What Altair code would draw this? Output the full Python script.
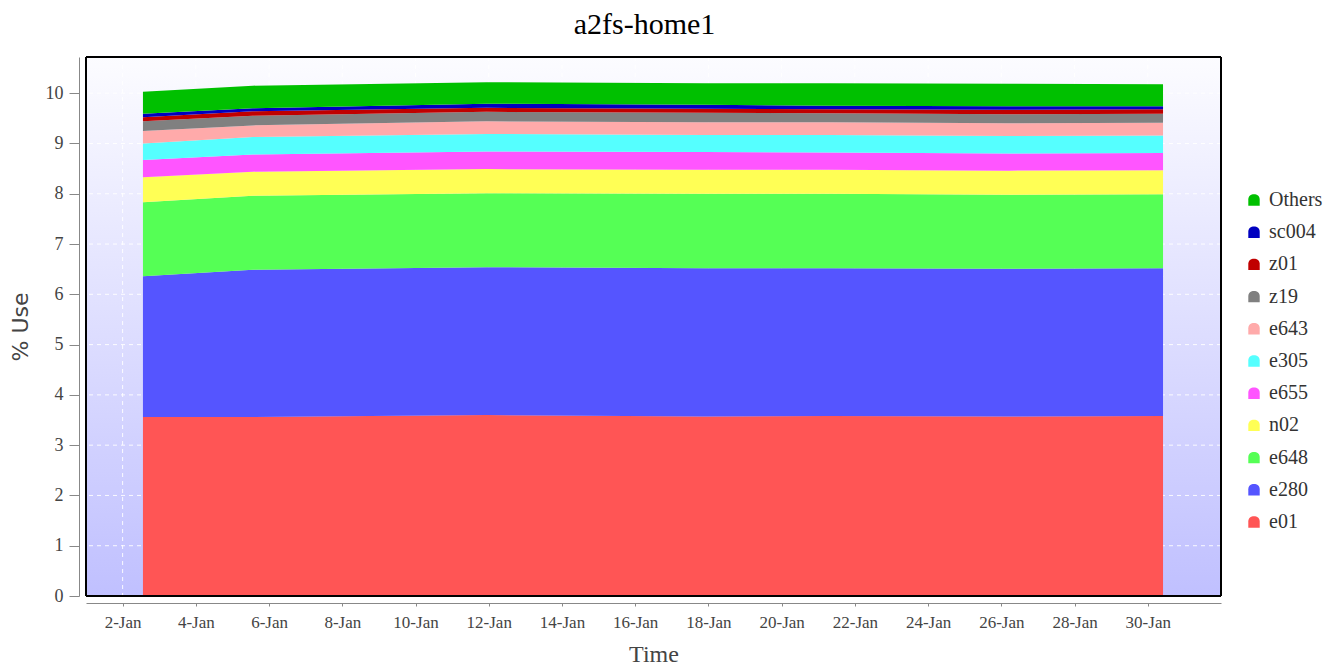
import altair as alt
import pandas as pd

dates = [
    "2013-01-02T13:20:00",
    "2013-01-05T13:20:00",
    "2013-01-11T22:30:00",
    "2013-01-17T21:20:00",
    "2013-01-21T07:10:00",
    "2013-01-26T05:00:00",
    "2013-01-30T10:00:00",
]

series_names = ["e01", "e280", "e648", "n02", "e655", "e305", "e643", "z19", "z01", "sc004", "Others"]
series_colors = ["#ff5555", "#5555ff", "#55ff55", "#ffff55", "#ff55ff", "#55ffff",
                 "#ffaaaa", "#808080", "#c00000", "#0000c0", "#00c000"]

e01 = [3.56, 3.56, 3.60, 3.57, 3.58, 3.57, 3.58]
e280 = [2.80, 2.93, 2.94, 2.95, 2.94, 2.94, 2.94]
e648 = [1.47, 1.47, 1.47, 1.48, 1.48, 1.47, 1.47]
n02 = [0.50, 0.48, 0.48, 0.48, 0.48, 0.48, 0.48]
e655 = [0.34, 0.34, 0.35, 0.35, 0.34, 0.34, 0.34]
e305 = [0.33, 0.35, 0.35, 0.34, 0.35, 0.35, 0.35]
e643 = [0.25, 0.23, 0.25, 0.25, 0.25, 0.25, 0.25]
z19 = [0.19, 0.19, 0.19, 0.19, 0.18, 0.18, 0.18]
z01 = [0.08, 0.09, 0.08, 0.08, 0.08, 0.09, 0.09]
sc004 = [0.07, 0.06, 0.08, 0.08, 0.07, 0.07, 0.06]
others = [0.44, 0.45, 0.43, 0.43, 0.45, 0.45, 0.44]

series_values = [e01, e280, e648, n02, e655, e305, e643, z19, z01, sc004, others]

tick_days = list(range(2, 31, 2))
x_tick_dates = ["2013-01-%02dT00:00:00" % d for d in tick_days]
y_ticks = list(range(0, 11))

rows = []
for order, (name, vals) in enumerate(zip(series_names, series_values)):
    for d, v in zip(dates, vals):
        rows.append({"Time": d, "series": name, "value": v, "order": order})
df = pd.DataFrame(rows)

hgrid_df = pd.DataFrame({"value": y_ticks})
vgrid_df = pd.DataFrame({"Time": x_tick_dates})

SERIF = "Liberation Serif"
SANS = "DejaVu Sans"
W, H = 1135, 539

legend_domain = list(reversed(series_names))
legend_range = list(reversed(series_colors))

symbol_path = "M-1,1L-1,-0.1C-1,-0.7,-0.55,-1,0,-1C0.55,-1,1,-0.7,1,-0.1L1,1Z"

x_scale = alt.Scale(domain=[alt.DateTime(year=2013, month=1, date=1),
                            alt.DateTime(year=2013, month=2, date=1)], nice=False)
y_scale = alt.Scale(domain=[0, 10.72], nice=False, zero=True)

x_axis = alt.Axis(
    values=[alt.DateTime(year=2013, month=1, date=d) for d in tick_days],
    format="%-d-%b",
    offset=7,
    grid=False,
    title="Time",
    labelFontSize=17,
    tickSize=3,
    labelPadding=8,
    titlePadding=12,
    titleFont=SERIF,
    titleFontSize=24,
)
y_axis = alt.Axis(
    values=y_ticks,
    offset=7,
    grid=False,
    title="% Use",
    labelFontSize=18,
    tickSize=10,
    labelPadding=6,
    titleFont=SANS,
    titleFontSize=22,
    titlePadding=13,
)

bg = alt.Chart(hgrid_df).mark_rect(
    color=alt.LinearGradient(
        gradient="linear", x1=0, y1=0, x2=0, y2=1,
        stops=[alt.GradientStop(offset=0, color="#fcfcff"),
               alt.GradientStop(offset=1, color="#c0c0ff")],
    )
).encode(
    x=alt.value(0), x2=alt.value(W), y=alt.value(0), y2=alt.value(H)
)

hgrid = alt.Chart(hgrid_df).mark_rule(color="#ffffff", strokeDash=[4, 4], opacity=0.9).encode(
    y=alt.Y("value:Q", scale=y_scale, axis=y_axis, stack=None)
)
vgrid = alt.Chart(vgrid_df).mark_rule(color="#ffffff", strokeDash=[4, 4], opacity=0.9).encode(
    x=alt.X("Time:T", scale=x_scale, axis=x_axis)
)

area = alt.Chart(df).mark_area(interpolate="linear").encode(
    x=alt.X("Time:T", scale=x_scale, axis=x_axis),
    y=alt.Y("value:Q", stack="zero", scale=y_scale, axis=y_axis),
    color=alt.Color(
        "series:N",
        scale=alt.Scale(domain=legend_domain, range=legend_range),
        legend=alt.Legend(
            title=None,
            orient="none",
            legendX=1158,
            legendY=133,
            symbolType=symbol_path,
            symbolSize=130,
            symbolStrokeWidth=0,
            labelFont=SERIF,
            labelFontSize=20,
            labelColor="#333333",
            labelOffset=5,
            rowPadding=12.2,
        ),
    ),
    order=alt.Order("order:Q", sort="ascending"),
)

frame = alt.Chart(hgrid_df).mark_rect(
    fillOpacity=0, stroke="#000000", strokeWidth=1
).encode(
    x=alt.value(0), x2=alt.value(W), y=alt.value(0), y2=alt.value(H)
)

chart = alt.layer(bg, hgrid, vgrid, area, frame).properties(
    width=W,
    height=H,
    title=alt.TitleParams("a2fs-home1", font=SERIF, fontSize=30, fontWeight="normal",
                          color="#000000", offset=17, dx=-9),
    autosize=alt.AutoSizeParams(type="none"),
    padding={"left": 78, "top": 49, "right": 109, "bottom": 72},
).configure_view(
    stroke=None,
).configure_axis(
    labelFont=SERIF,
    labelColor="#444444",
    titleFontWeight="normal",
    titleColor="#444444",
    domainColor="#888888",
    tickColor="#888888",
)

chart.save("out.html", embed_options={"renderer": "svg", "actions": False})
